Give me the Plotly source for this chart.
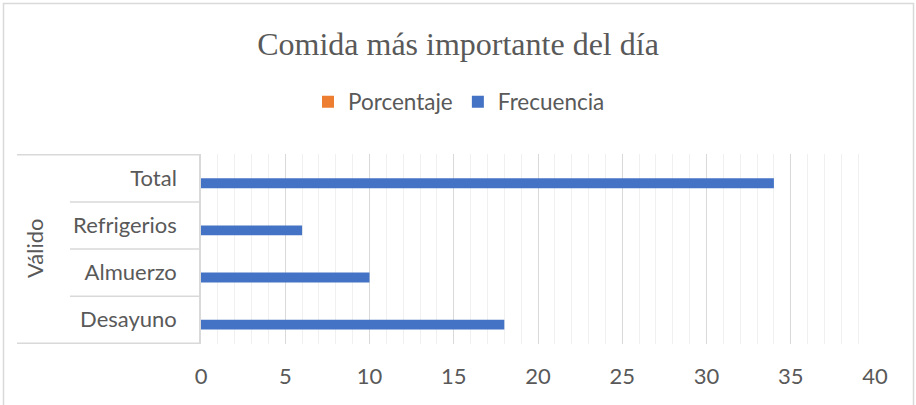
import plotly.graph_objects as go

categories = ["Desayuno", "Almuerzo", "Refrigerios", "Total"]
frecuencia = [18, 10, 6, 34]
porcentaje = [None, None, None, None]
group_label = "Válido"
title_text = "Comida más importante del día"
x_ticks = [0, 5, 10, 15, 20, 25, 30, 35, 40]

W, H = 916, 405
L, R, T, B = 201, 41, 154, 61
pw = W - L - R
ph = H - T - B

def px_x(px):
    return (px - L) / pw

def px_y(py):
    return (H - B - py) / ph

text_color = "#595959"
font_family = "Lato, Carlito, Calibri, sans-serif"

fig = go.Figure()
fig.add_trace(go.Bar(
    y=categories, x=frecuencia, orientation="h", name="Frecuencia",
    marker=dict(color="#4472C4", line=dict(width=0)), legendrank=2,
))
fig.add_trace(go.Bar(
    y=categories, x=porcentaje, orientation="h", name="Porcentaje",
    marker=dict(color="#ED7D31", line=dict(width=0)), legendrank=1,
))

line_col = "#D9D9D9"
shapes = []
shapes.append(dict(type="rect", xref="paper", yref="paper",
                   x0=px_x(3.5), x1=px_x(913.5), y0=px_y(420), y1=px_y(3.5),
                   line=dict(color="#D9D9D9", width=1.5), fillcolor="rgba(0,0,0,0)", layer="below"))
shapes.append(dict(type="line", xref="paper", yref="y", x0=px_x(17), x1=0, y0=3.5, y1=3.5,
                   line=dict(color=line_col, width=1.5)))
shapes.append(dict(type="line", xref="paper", yref="y", x0=px_x(17), x1=0, y0=-0.5, y1=-0.5,
                   line=dict(color=line_col, width=1.5)))
for yv in [0.5, 1.5, 2.5]:
    shapes.append(dict(type="line", xref="paper", yref="y", x0=px_x(70), x1=0, y0=yv, y1=yv,
                       line=dict(color=line_col, width=1.5)))

fig.update_layout(
    width=W, height=H,
    margin=dict(l=L, r=R, t=T, b=B),
    paper_bgcolor="white", plot_bgcolor="white",
    barmode="group", bargap=0.58, bargroupgap=0,
    title=dict(text=title_text, x=0.5, xanchor="center", y=1 - 44 / H, yanchor="middle",
               font=dict(family="Liberation Serif, Times New Roman, serif", size=32, color=text_color)),
    legend=dict(orientation="h", x=px_x(459), xanchor="center", y=px_y(102), yanchor="middle",
                font=dict(family=font_family, size=22.5, color=text_color), traceorder="normal",
                itemclick=False, itemwidth=30),
    xaxis=dict(range=[0, 40], tickvals=x_ticks, showgrid=True, gridcolor="#D9D9D9", gridwidth=1,
               minor=dict(dtick=1, showgrid=True, gridcolor="#F0F0F0", gridwidth=1),
               zeroline=False, showline=False, ticks="", ticklabelstandoff=17,
               tickfont=dict(family=font_family, size=22, color=text_color), fixedrange=True),
    yaxis=dict(categoryorder="array", categoryarray=categories, showgrid=False, zeroline=False,
               showline=True, linecolor="#D9D9D9", linewidth=1.5, ticks="", ticklabelstandoff=18,
               tickfont=dict(family=font_family, size=22, color=text_color), fixedrange=True),
    shapes=shapes,
    annotations=[dict(text=group_label, xref="paper", yref="paper", x=px_x(34), y=px_y(249),
                      xanchor="center", yanchor="middle", textangle=-90, showarrow=False,
                      font=dict(family=font_family, size=22, color=text_color))],
    showlegend=True,
)

fig.write_html("out.html", config={"displayModeBar": False},
               post_script="document.body.style.margin='0';document.body.style.overflow='hidden';")
